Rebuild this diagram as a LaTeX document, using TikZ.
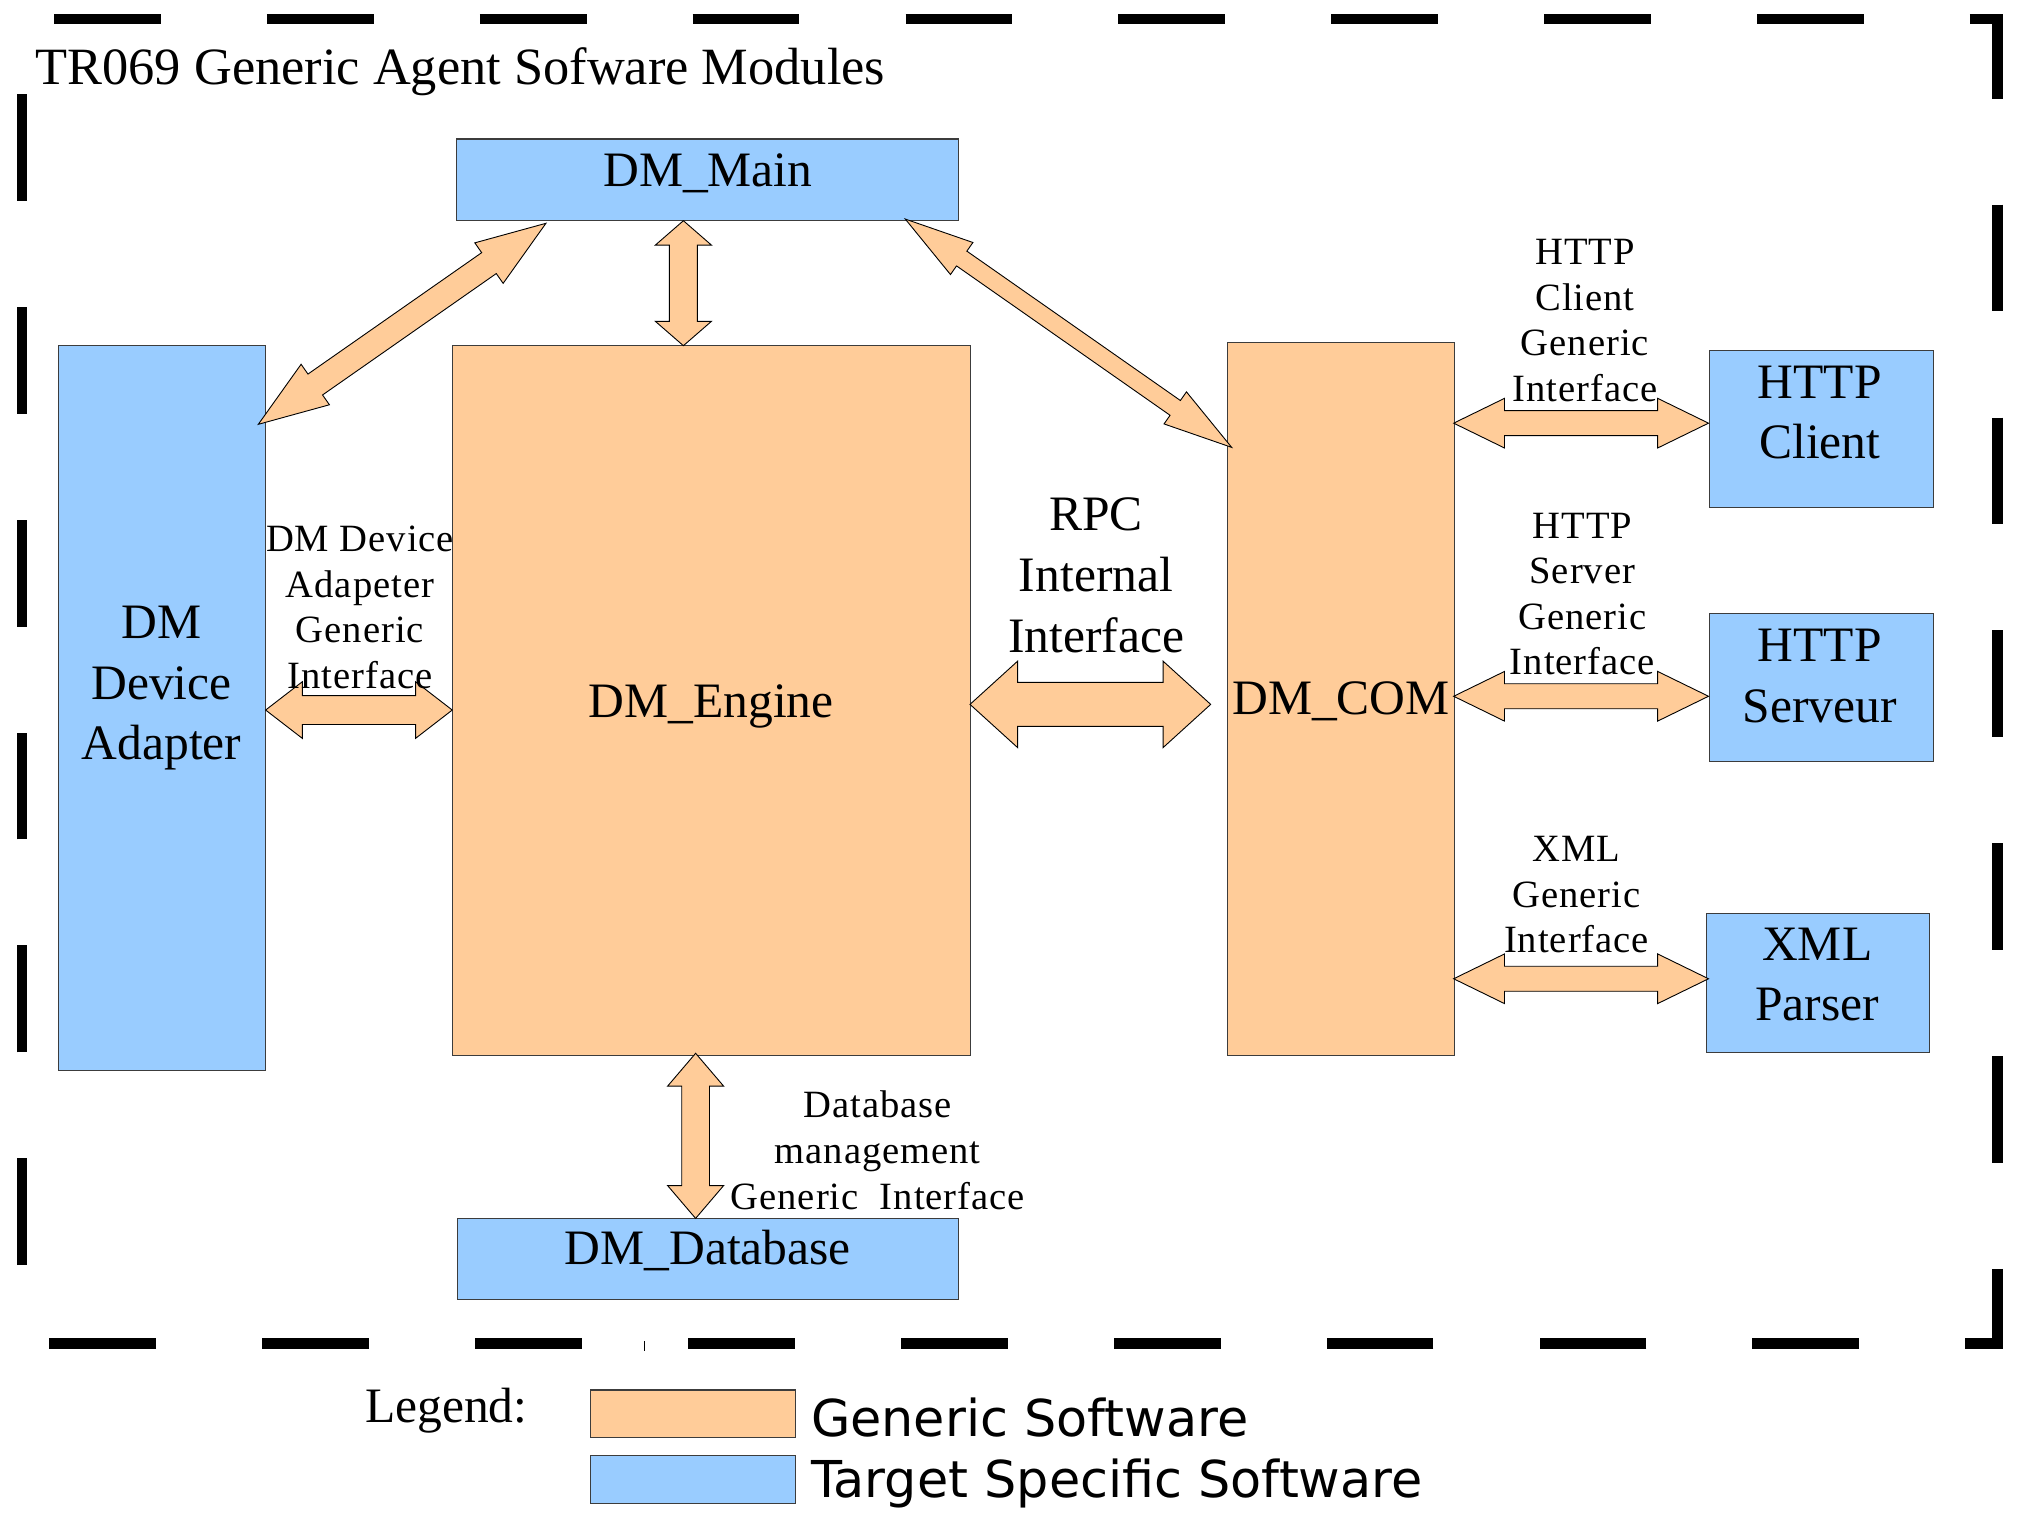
\documentclass[tikz,border=0pt]{standalone}
\usepackage{fontspec}
\setmainfont{Liberation Serif}
\newfontfamily\legendfont{DejaVu Sans}
\newfontfamily\labelfont[LetterSpace=2.5]{Liberation Serif}
\usetikzlibrary{calc}
\definecolor{orangeF}{HTML}{FFCC99}
\definecolor{blueF}{HTML}{99CCFF}
\definecolor{edgeC}{HTML}{3C3C3C}
\tikzset{
  box/.style={draw=edgeC, line width=0.9pt, inner sep=0pt, outer sep=0pt, anchor=north west},
  gen/.style={box, fill=orangeF},
  tgt/.style={box, fill=blueF},
  barrow/.style={fill=orangeF, draw=black, line width=0.7pt, line join=miter},
  big/.style={font=\fontsize{38.5}{47.2}\selectfont, inner sep=0pt, anchor=base},
  small/.style={font=\labelfont\fontsize{30}{35.4}\selectfont, inner sep=0pt, anchor=base},
  frameline/.style={line width=8pt, dash pattern=on 83pt off 82.4pt, dash phase=140.4pt, line join=miter, line cap=butt},
}
% block arrow between named points: #1,#2 tips, #3 head length, #4 head half width, #5 shaft half width
\newcommand\blockarrow[5]{%
  \filldraw[barrow] (#1)
    -- ($(#1)!#3!(#2)!#4!90:(#2)$)
    -- ($(#1)!#3!(#2)!#5!90:(#2)$)
    -- ($(#2)!#3!(#1)!#5!-90:(#1)$)
    -- ($(#2)!#3!(#1)!#4!-90:(#1)$)
    -- (#2)
    -- ($(#2)!#3!(#1)!#4!90:(#1)$)
    -- ($(#2)!#3!(#1)!#5!90:(#1)$)
    -- ($(#1)!#3!(#2)!#5!-90:(#2)$)
    -- ($(#1)!#3!(#2)!#4!-90:(#2)$)
    -- cycle;}
\newcommand\lines[1]{\begin{tabular}[t]{@{}c@{}}#1\end{tabular}}
\begin{document}
\begin{tikzpicture}[x=1pt, y=-1pt]
\useasboundingbox (0,0) rectangle (1568,1184);
% dashed frame
\draw[frameline] (17,15) -- (1552,15) -- (1552,1044) -- (17,1044) -- cycle;
\draw[line width=1pt] (501,1042) -- (501,1050);
% boxes
\node[tgt, minimum width=390pt, minimum height=63pt] (main) at (355,108) {};
\node[tgt, minimum width=160.5pt, minimum height=563.3pt] (adapter) at (45.5,268.7) {};
\node[gen, minimum width=402.5pt, minimum height=551.3pt] (engine) at (351.5,268.7) {};
\node[gen, minimum width=176pt, minimum height=554pt] (com) at (954,266) {};
\node[tgt, minimum width=174pt, minimum height=121.5pt] (hclient) at (1328,272.5) {};
\node[tgt, minimum width=174pt, minimum height=115pt] (hserv) at (1328,477) {};
\node[tgt, minimum width=173pt, minimum height=108pt] (xmlp) at (1326,710) {};
\node[tgt, minimum width=389.5pt, minimum height=63pt] (db) at (355.5,947) {};
\node[gen, minimum width=159pt, minimum height=37pt] (leggen) at (459,1080) {};
\node[tgt, minimum width=159pt, minimum height=37pt] (legtgt) at (459,1131) {};
% arrow end points
\coordinate (vA1) at (531,171.5);   \coordinate (vA2) at (531,268.6);
\coordinate (dA1) at (424.2,173.5); \coordinate (dA2) at (200.7,329.7);
\coordinate (dB1) at (703.4,170.2); \coordinate (dB2) at (957,347.6);
\coordinate (hA1) at (206.4,551.7); \coordinate (hA2) at (351.4,551.7);
\coordinate (hR1) at (753.7,547.3); \coordinate (hR2) at (940.7,547.3);
\coordinate (h11) at (1129.5,328.8); \coordinate (h12) at (1327.5,328.8);
\coordinate (h21) at (1129.5,541);   \coordinate (h22) at (1327.5,541);
\coordinate (h31) at (1129.5,760.5); \coordinate (h32) at (1327.5,760.5);
\coordinate (vD1) at (540.5,818.4); \coordinate (vD2) at (540.5,946.7);
\blockarrow{vA1}{vA2}{18.9pt}{21.75pt}{10.9pt}
\blockarrow{dA1}{dA2}{54pt}{19.2pt}{9.9pt}
\blockarrow{dB1}{dB2}{53.5pt}{15.2pt}{7pt}
\blockarrow{hA1}{hA2}{28.5pt}{22pt}{11.2pt}
\blockarrow{hR1}{hR2}{37pt}{33.6pt}{17.1pt}
\blockarrow{h11}{h12}{39.5pt}{19.3pt}{9.7pt}
\blockarrow{h21}{h22}{39.5pt}{19.3pt}{9.7pt}
\blockarrow{h31}{h32}{39.5pt}{19.3pt}{9.7pt}
\blockarrow{vD1}{vD2}{25.5pt}{21.75pt}{10.75pt}
% texts
\node[inner sep=0pt, anchor=base west, font=\fontsize{40.7}{48}\selectfont] (title) at (27.5,66) {TR069 Generic Agent Sofware Modules};
\node[big] (tmain) at (550,145) {DM\_Main};
\node[big] (tadapter) at (125.5,496) {\lines{DM\\Device\\Adapter}};
\node[big] (tengine) at (552.5,557.7) {DM\_Engine};
\node[big] (tcom) at (1042,555.5) {DM\_COM};
\node[big] (thclient) at (1414,309.4) {\lines{HTTP\\Client}};
\node[big] (thserv) at (1414,514) {\lines{HTTP\\Serveur}};
\node[big] (txml) at (1412,746) {\lines{XML\\Parser}};
\node[big] (tdb) at (550,982.6) {DM\_Database};
\node[small] (ldev) at (279.7,428.6) {\lines{DM Device\\Adapeter\\Generic\\Interface}};
\node[big] (lrpc) at (851.6,412.3) {\lines{RPC\\Internal\\Interface}};
\node[small] (lhc) at (1231.5,205.7) {\lines{HTTP\\Client\\Generic\\Interface}};
\node[small] (lhs) at (1229.5,418.1) {\lines{HTTP\\Server\\Generic\\Interface}};
\node[small] (lxml) at (1225,669.4) {\lines{XML\\Generic\\Interface}};
\node[small] (ldb) at (682,868.6) {\lines{Database\\management\\Generic~~Interface}};
% legend
\node[inner sep=0pt, anchor=base west, font=\fontsize{38.5}{47}\selectfont] (legend) at (283.5,1105.2) {Legend:};
\node[inner sep=0pt, anchor=base west, font=\legendfont\fontsize{39.5}{47}\selectfont] (lgen) at (630,1116.5) {Generic Software};
\node[inner sep=0pt, anchor=base west, font=\legendfont\fontsize{39.5}{47}\selectfont] (ltgt) at (630,1163.7) {Target Specific Software};
\end{tikzpicture}
\end{document}
